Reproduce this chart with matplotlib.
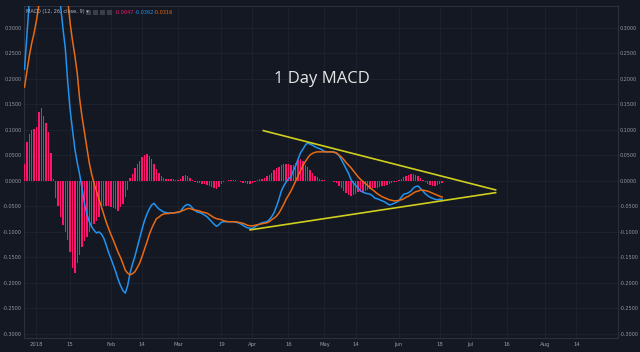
import numpy as np
import matplotlib
matplotlib.use("Agg")
import matplotlib.pyplot as plt
import matplotlib.dates as mdates
from matplotlib.patches import Rectangle

plt.rcParams['axes.unicode_minus'] = False
plt.rcParams['font.family'] = ['DejaVu Sans']

start_date = np.datetime64('2017-12-27')

histogram = [
    0.034, 0.077, 0.092, 0.099, 0.101, 0.105, 0.136, 0.143, 0.127, 0.113, 0.095, 0.055, 0.003,
    -0.034, -0.050, -0.070, -0.086, -0.100, -0.115, -0.140, -0.170, -0.180, -0.160, -0.145,
    -0.130, -0.118, -0.110, -0.100, -0.093, -0.085, -0.078, -0.070, -0.055, -0.050, -0.049,
    -0.050, -0.052, -0.054, -0.056, -0.058, -0.052, -0.045, -0.032, -0.018,
    0.005, 0.014, 0.026, 0.034, 0.040, 0.046, 0.050, 0.053, 0.049, 0.043, 0.033, 0.024, 0.016,
    0.010, 0.006,
    0.004, 0.003, 0.003, 0.003, 0.002, 0.002, 0.004, 0.010, 0.012, 0.010, 0.005, 0.001,
    -0.002, -0.004, -0.005, -0.006, -0.007, -0.008, -0.010, -0.012, -0.014, -0.015, -0.012,
    -0.006, -0.002,
    0.000, 0.001, 0.001, 0.002, 0.001, -0.001, -0.002, -0.004, -0.005, -0.006, -0.006, -0.005,
    -0.003, 0.001, 0.003, 0.004, 0.006, 0.009, 0.012, 0.016, 0.021, 0.025, 0.027, 0.031, 0.033,
    0.034, 0.033, 0.032, 0.031, 0.036, 0.041, 0.043, 0.039, 0.032, 0.027, 0.022, 0.015, 0.010,
    0.007, 0.004, 0.002, 0.001, 0.000, 0.000, -0.001, -0.003, -0.005, -0.009, -0.014, -0.019,
    -0.024, -0.028, -0.029, -0.027, -0.025, -0.022, -0.021, -0.023, -0.020, -0.017, -0.016,
    -0.014, -0.014, -0.013, -0.012, -0.010, -0.009, -0.008, -0.006, -0.004, -0.003, -0.002,
    0.001, 0.004, 0.008, 0.010, 0.012, 0.013, 0.013, 0.011, 0.009, 0.006, 0.002, -0.003,
    -0.006, -0.008, -0.009, -0.009, -0.008, -0.006, -0.0047,
]

macd_line = [
    0.219, 0.285, 0.355, 0.40, 0.44, 0.46, 0.48, 0.49, 0.49, 0.48, 0.46, 0.44, 0.41, 0.38,
    0.36, 0.345, 0.30, 0.26, 0.195, 0.14, 0.10, 0.062, 0.035, 0.012, -0.015, -0.045, -0.065,
    -0.080, -0.090, -0.097, -0.102, -0.100, -0.104, -0.112, -0.125, -0.140, -0.152, -0.165,
    -0.178, -0.193, -0.205, -0.215, -0.220, -0.205, -0.180, -0.163, -0.148, -0.130, -0.112,
    -0.094, -0.078, -0.065, -0.055, -0.047, -0.044, -0.050, -0.055, -0.058, -0.061, -0.062,
    -0.063, -0.063, -0.063, -0.062, -0.062, -0.060, -0.053, -0.048, -0.046, -0.048, -0.053,
    -0.058, -0.061, -0.062, -0.064, -0.067, -0.070, -0.075, -0.080, -0.085, -0.089, -0.086,
    -0.081, -0.080, -0.080, -0.080, -0.080, -0.080, -0.081, -0.082, -0.084, -0.087, -0.090,
    -0.092, -0.093, -0.093, -0.090, -0.087, -0.084, -0.082, -0.081, -0.080, -0.076, -0.070,
    -0.062, -0.050, -0.036, -0.020, -0.010, -0.002, 0.004, 0.008, 0.020, 0.030, 0.043, 0.055,
    0.062, 0.070, 0.075, 0.072, 0.070, 0.067, 0.065, 0.063, 0.061, 0.058, 0.057, 0.057, 0.057,
    0.057, 0.054, 0.050, 0.042, 0.033, 0.024, 0.015, 0.003, -0.004, -0.009, -0.014, -0.019,
    -0.022, -0.024, -0.025, -0.026, -0.029, -0.034, -0.035, -0.037, -0.039, -0.041, -0.044,
    -0.047, -0.046, -0.044, -0.042, -0.039, -0.032, -0.026, -0.025, -0.023, -0.020, -0.014,
    -0.011, -0.010, -0.015, -0.020, -0.025, -0.029, -0.032, -0.034, -0.036, -0.037, -0.036,
    -0.0362,
]

signal_line = [
    0.184, 0.215, 0.245, 0.270, 0.290, 0.315, 0.345, 0.37, 0.39, 0.41, 0.42, 0.43, 0.43, 0.425,
    0.415, 0.40, 0.385, 0.37, 0.355, 0.31, 0.275, 0.245, 0.21, 0.16, 0.125, 0.095, 0.065,
    0.035, 0.013, -0.005, -0.020, -0.036, -0.050, -0.065, -0.080, -0.093, -0.105, -0.116,
    -0.128, -0.140, -0.150, -0.162, -0.175, -0.181, -0.184, -0.182, -0.178, -0.170, -0.161,
    -0.148, -0.134, -0.120, -0.105, -0.093, -0.083, -0.074, -0.071, -0.067, -0.065, -0.064,
    -0.064, -0.063, -0.063, -0.062, -0.061, -0.060, -0.058, -0.056, -0.054, -0.054, -0.056,
    -0.057, -0.058, -0.059, -0.061, -0.062, -0.063, -0.066, -0.069, -0.072, -0.074, -0.075,
    -0.076, -0.078, -0.079, -0.080, -0.080, -0.080, -0.080, -0.081, -0.082, -0.083, -0.085,
    -0.087, -0.088, -0.088, -0.087, -0.086, -0.085, -0.084, -0.083, -0.082, -0.080, -0.076,
    -0.073, -0.069, -0.063, -0.055, -0.046, -0.036, -0.028, -0.020, -0.010, 0.000, 0.010,
    0.020, 0.030, 0.038, 0.045, 0.051, 0.054, 0.056, 0.057, 0.057, 0.057, 0.057, 0.057, 0.057,
    0.057, 0.056, 0.055, 0.051, 0.047, 0.042, 0.036, 0.031, 0.026, 0.020, 0.014, 0.008, 0.003,
    -0.001, -0.005, -0.009, -0.014, -0.017, -0.021, -0.025, -0.028, -0.031, -0.033, -0.035,
    -0.037, -0.038, -0.039, -0.039, -0.038, -0.037, -0.035, -0.032, -0.030, -0.027, -0.024,
    -0.021, -0.020, -0.018, -0.018, -0.019, -0.020, -0.022, -0.024, -0.026, -0.028, -0.030,
    -0.0316,
]

# trend line drawings: (date, value) endpoints
upper_trend_dates = ['2018-04-05T12', '2018-07-11T07']
upper_trend_values = [0.0986, -0.0176]
lower_trend_dates = ['2018-03-31', '2018-07-11T07']
lower_trend_values = [-0.096, -0.023]

tick_dates = ['2018-01-01', '2018-01-15', '2018-02-01', '2018-02-14', '2018-03-01', '2018-03-19',
              '2018-04-01', '2018-04-16', '2018-05-01', '2018-05-14', '2018-06-01', '2018-06-18',
              '2018-07-01', '2018-07-16', '2018-08-01', '2018-08-14']
tick_labels = ['2018', '15', 'Feb', '14', 'Mar', '19', 'Apr', '16', 'May', '14', 'Jun', '18',
               'Jul', '16', 'Aug', '14']
y_ticks = [-0.30, -0.25, -0.20, -0.15, -0.10, -0.05, 0.0, 0.05, 0.10, 0.15, 0.20, 0.25, 0.30]

BG = '#141823'
GRID = '#1f2330'
TXT = '#9598a1'
BLUE = '#2193f0'
ORANGE = '#ea6a12'
PINK = '#ff1470'
YELLOW = '#cfcf1d'

n = min(len(histogram), len(macd_line), len(signal_line))
dates = start_date + np.arange(n).astype('timedelta64[D]')
x = mdates.date2num(dates.astype('datetime64[ms]').astype(object))

fig = plt.figure(figsize=(6.4, 3.52), dpi=100, facecolor=BG)
ax = fig.add_axes([24 / 640, 14 / 352, 594 / 640, 332 / 352])
ax.set_facecolor(BG)

ax.bar(x, histogram[:n], width=0.55, color=PINK, linewidth=0, zorder=3)
ax.plot(x, macd_line[:n], color=BLUE, lw=1.1, zorder=4)
ax.plot(x, signal_line[:n], color=ORANGE, lw=1.1, zorder=4)

def todn(ds):
    return [mdates.date2num(np.datetime64(d).astype('datetime64[ms]').astype(object)) for d in ds]

ax.plot(todn(upper_trend_dates), upper_trend_values, color=YELLOW, lw=1.2, zorder=5)
ax.plot(todn(lower_trend_dates), lower_trend_values, color=YELLOW, lw=1.2, zorder=5)

x0 = mdates.date2num(np.datetime64('2017-12-26T19').astype('datetime64[ms]').astype(object))
ax.set_xlim(x0, x0 + 594 / 2.4)
ax.set_ylim(-0.308, 0.343)

ax.set_xticks(todn(tick_dates))
ax.set_xticklabels(tick_labels)
ax.set_yticks(y_ticks)
ax.set_yticklabels(['%.4f' % v for v in y_ticks])
ax.tick_params(axis='both', colors=TXT, labelsize=3.5, length=0)
ax.tick_params(axis='y', labelleft=True, labelright=True, pad=1.5)
ax.tick_params(axis='x', pad=3, labelsize=3.8)
ax.grid(True, color=GRID, lw=0.6, zorder=0)
for s in ax.spines.values():
    s.set_color('#2c303c')
    s.set_linewidth(0.8)

ax.text(0.502, 0.78, '1 Day MACD', transform=ax.transAxes, ha='center', va='center',
        color='#e6e6e6', fontsize=12, family='Open Sans')

# indicator header
fig.text(26 / 640, 1 - 12 / 352, 'MACD (12, 26, close, 9) \u25be', color='#b2b5be', fontsize=3.6,
         va='center', ha='left')
for k in range(4):
    fig.patches.append(Rectangle(((86 + 7 * k) / 640, 1 - 15 / 352), 5 / 640, 5 / 352,
                                 transform=fig.transFigure, facecolor='#3a3e4a',
                                 edgecolor='none'))
fig.text(115 / 640, 1 - 12 / 352, '-0.0047', color=PINK, fontsize=3.6, va='center')
fig.text(135 / 640, 1 - 12 / 352, '-0.0362', color=BLUE, fontsize=3.6, va='center')
fig.text(154 / 640, 1 - 12 / 352, '-0.0316', color=ORANGE, fontsize=3.6, va='center')

fig.savefig('out.png', dpi=100, facecolor=BG)
